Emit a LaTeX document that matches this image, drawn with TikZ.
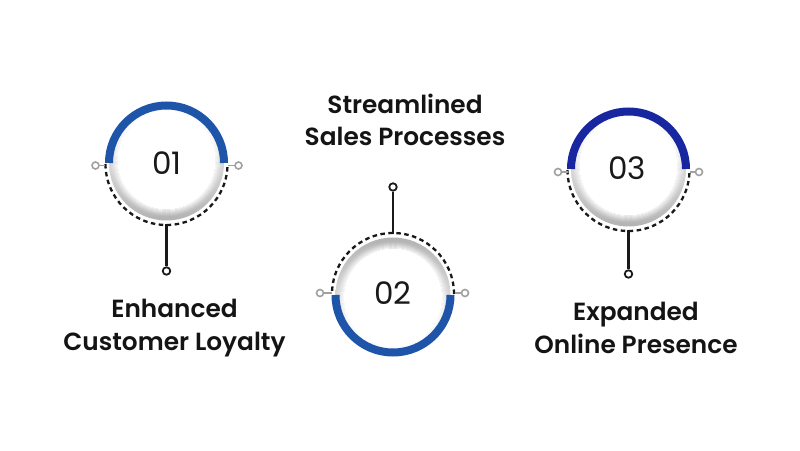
\documentclass[tikz,border=0pt]{standalone}
\usepackage{fontspec}
\setmainfont{Poppins}
\newfontfamily\labelfont{Poppins SemiBold}
\definecolor{blueA}{RGB}{30,85,168}
\definecolor{blueB}{RGB}{24,38,160}
\definecolor{capgray}{RGB}{160,160,160}
\begin{document}
\begin{tikzpicture}[x=1pt,y=1pt,
  bluearc/.style={line width=8pt},
  dasharc/.style={line width=2.3pt, dash pattern=on 4.5pt off 3.5pt, black!90},
  endpt/.style={circle, draw=black!90, line width=1.8pt, fill=white, inner sep=0pt, minimum size=7.5pt},
  sidept/.style={circle, draw=capgray, line width=1.6pt, fill=white, inner sep=0pt, minimum size=7pt},
  numtxt/.style={font=\fontsize{31}{36}\selectfont, text=black!90},
  lbl/.style={font=\labelfont\fontsize{24.8}{32}\selectfont, align=center, text=black!92, anchor=base},
  link/.style={line width=2.2pt, black!90},
  sidelink/.style={line width=1.6pt, capgray}
]
\fill[white] (0,0) rectangle (800,450);
\useasboundingbox (0,0) rectangle (800,450);

% ---- circle 01
\shade[top color=white, bottom color=black!30] (166.5,287) circle (57.5);
\fill[white] (166.5,289.5) circle (49);
\foreach \i/\o in {0/0.8,1/0.65,2/0.5,3/0.38,4/0.26,5/0.15,6/0.07}
  \draw[white, opacity=\o, line width=1.05pt] (166.5,289.5) circle (49.5+\i);
\draw[bluearc, blueA] (224,287) arc (0:180:57.5);
\draw[dasharc] (105.5,286) arc (180:360:61);
\node[numtxt] (n1) at (167,287) {01};
\coordinate (t1) at (166.5,226);
\node[endpt] (e1) at (166.5,179) {};
\draw[link] (t1) -- (e1);
\coordinate (a1) at (105,284.5);
\node[sidept] (s1) at (95.5,284.5) {};
\draw[sidelink] (a1) -- (s1);
\coordinate (b1) at (228,284.5);
\node[sidept] (r1) at (238.5,284.5) {};
\draw[sidelink] (b1) -- (r1);

% ---- circle 02
\shade[top color=black!30, bottom color=white] (393,155) circle (57.5);
\fill[white] (393,152.5) circle (49);
\foreach \i/\o in {0/0.8,1/0.65,2/0.5,3/0.38,4/0.26,5/0.15,6/0.07}
  \draw[white, opacity=\o, line width=1.05pt] (393,152.5) circle (49.5+\i);
\draw[bluearc, blueA] (335.5,155) arc (180:360:57.5);
\draw[dasharc] (454,156) arc (0:180:61);
\node[numtxt] (n2) at (393,156.5) {02};
\coordinate (t2) at (393,216);
\node[endpt] (e2) at (393,263) {};
\draw[link] (t2) -- (e2);
\coordinate (a2) at (331.5,157);
\node[sidept] (s2) at (320,157) {};
\draw[sidelink] (a2) -- (s2);
\coordinate (b2) at (454.5,157);
\node[sidept] (r2) at (465,157) {};
\draw[sidelink] (b2) -- (r2);

% ---- circle 03
\shade[top color=white, bottom color=black!30] (628.5,281) circle (57.5);
\fill[white] (628.5,283.5) circle (49);
\foreach \i/\o in {0/0.8,1/0.65,2/0.5,3/0.38,4/0.26,5/0.15,6/0.07}
  \draw[white, opacity=\o, line width=1.05pt] (628.5,283.5) circle (49.5+\i);
\draw[bluearc, blueB] (686,281) arc (0:180:57.5);
\draw[dasharc] (567.5,280) arc (180:360:61);
\node[numtxt] (n3) at (627,281.5) {03};
\coordinate (t3) at (628.5,220);
\node[endpt] (e3) at (628.5,176) {};
\draw[link] (t3) -- (e3);
\coordinate (a3) at (567.5,278);
\node[sidept] (s3) at (558,278) {};
\draw[sidelink] (a3) -- (s3);
\coordinate (b3) at (689.5,278);
\node[sidept] (r3) at (699,278) {};
\draw[sidelink] (b3) -- (r3);

% ---- labels
\node[lbl] (L1) at (174.5,100) {Enhanced\\Customer Loyalty};
\node[lbl] (L2) at (405,304) {Streamlined\\Sales Processes};
\node[lbl] (L3) at (636,97) {Expanded\\Online Presence};
\end{tikzpicture}
\end{document}
